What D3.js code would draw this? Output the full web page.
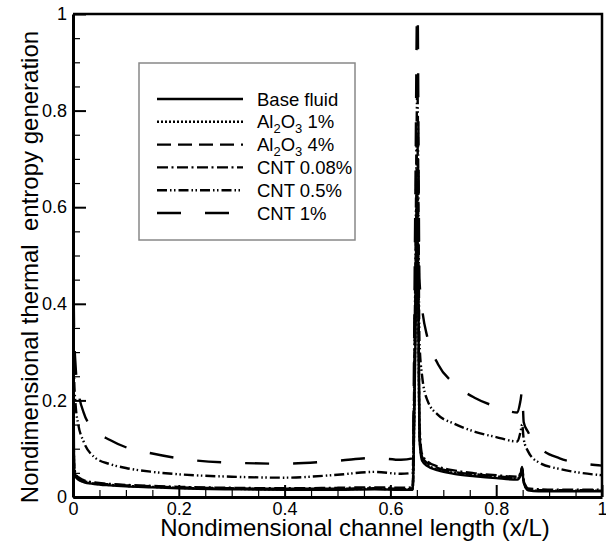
<!DOCTYPE html>
<html>
<head>
<meta charset="utf-8">
<script src="https://cdn.jsdelivr.net/npm/d3@7"></script>
<style>
  body { margin: 0; background: #fff; }
  svg { font-family: "Liberation Sans", Arial, sans-serif; }
</style>
</head>
<body>
<div class="canvas"></div>
<script>
// x/L positions shared by every series (dense near the inlet and the two jumps)
const xs = [0, 0.002, 0.005, 0.01, 0.02, 0.04, 0.07, 0.1, 0.15, 0.2, 0.3, 0.4, 0.5, 0.57, 0.62,
  0.642, 0.647, 0.651, 0.655, 0.66, 0.67, 0.69, 0.72, 0.76, 0.8, 0.84,
  0.846, 0.849, 0.852, 0.86, 0.88, 0.92, 0.96, 1]

const baseFluid = [0.45, 0.06, 0.042, 0.036, 0.031, 0.027, 0.024, 0.022, 0.02, 0.018, 0.016, 0.015, 0.015, 0.016, 0.015,
  0.015, 0.3, 0.6, 0.12, 0.075, 0.064, 0.055, 0.048, 0.043, 0.039, 0.036,
  0.045, 0.056, 0.03, 0.014, 0.012, 0.012, 0.012, 0.012]
const al2o3_1 = [0.46, 0.062, 0.044, 0.037, 0.032, 0.028, 0.025, 0.023, 0.021, 0.019, 0.017, 0.016, 0.016, 0.017, 0.016,
  0.016, 0.32, 0.63, 0.125, 0.078, 0.066, 0.057, 0.05, 0.045, 0.041, 0.038,
  0.047, 0.058, 0.031, 0.015, 0.013, 0.013, 0.013, 0.013]
const al2o3_4 = [0.48, 0.066, 0.046, 0.039, 0.033, 0.029, 0.026, 0.024, 0.022, 0.02, 0.018, 0.017, 0.017, 0.018, 0.017,
  0.018, 0.36, 0.68, 0.135, 0.083, 0.07, 0.06, 0.052, 0.047, 0.043, 0.04,
  0.048, 0.06, 0.033, 0.016, 0.014, 0.014, 0.014, 0.014]
const cnt008 = [0.5, 0.07, 0.048, 0.041, 0.035, 0.03, 0.027, 0.025, 0.023, 0.021, 0.019, 0.018, 0.019, 0.02, 0.019,
  0.02, 0.4, 0.75, 0.15, 0.088, 0.074, 0.063, 0.055, 0.049, 0.045, 0.042,
  0.05, 0.062, 0.035, 0.018, 0.016, 0.015, 0.015, 0.015]
const cnt05 = [0.55, 0.25, 0.19, 0.15, 0.115, 0.083, 0.068, 0.06, 0.052, 0.047, 0.042, 0.04, 0.046, 0.052, 0.048,
  0.05, 0.45, 0.85, 0.32, 0.25, 0.2, 0.17, 0.152, 0.135, 0.124, 0.115,
  0.135, 0.15, 0.12, 0.095, 0.072, 0.058, 0.05, 0.045]
const cnt1 = [0.7, 0.35, 0.27, 0.22, 0.175, 0.14, 0.118, 0.103, 0.09, 0.08, 0.071, 0.069, 0.075, 0.081, 0.077,
  0.08, 0.6, 1.05, 0.45, 0.39, 0.33, 0.275, 0.235, 0.205, 0.187, 0.175,
  0.2, 0.22, 0.155, 0.135, 0.105, 0.08, 0.07, 0.065]

const labels = ['Base fluid', 'Al{2}O{3} 1%', 'Al{2}O{3} 4%', 'CNT 0.08%', 'CNT 0.5%', 'CNT 1%']
const xTicks = [0, 0.2, 0.4, 0.6, 0.8, 1]
const yTicks = [0, 0.2, 0.4, 0.6, 0.8, 1]
const minorTicks = [0.05, 0.1, 0.15, 0.25, 0.3, 0.35, 0.45, 0.5, 0.55, 0.65, 0.7, 0.75, 0.85, 0.9, 0.95]

// line styles
const dashes = [null, '2,2', '14,7', '11,3.5,2,3.5', '10,3,1.5,2.5,1.5,3', '24,24']

const series = [baseFluid, al2o3_1, al2o3_4, cnt008, cnt05, cnt1].map((vals, i) => ({
  label: labels[i],
  dash: dashes[i],
  points: xs.map((x, j) => [x, vals[j]])
}))

const width = 606
const height = 542
const margin = { top: 14, right: 4, bottom: 45, left: 73 }

const svg = d3.select('.canvas')
  .append('svg')
  .attr('width', width)
  .attr('height', height)

const graphWidth = width - margin.left - margin.right
const graphHeight = height - margin.top - margin.bottom

const graph = svg.append('g')
  .attr('transform', `translate(${margin.left}, ${margin.top})`)

const x = d3.scaleLinear().domain([0, 1]).range([0, graphWidth])
const y = d3.scaleLinear().domain([0, 1]).range([graphHeight, 0])

graph.append('clipPath').attr('id', 'clip')
  .append('rect')
  .attr('width', graphWidth)
  .attr('height', graphHeight)

const line = d3.line()
  .x(d => x(d[0]))
  .y(d => y(d[1]))
  .curve(d3.curveMonotoneX)

// curves, drawn back to front
graph.append('g')
  .attr('clip-path', 'url(#clip)')
  .selectAll('path')
  .data(series.slice().reverse())
  .enter()
  .append('path')
    .attr('d', d => line(d.points))
    .attr('fill', 'none')
    .attr('stroke', '#000')
    .attr('stroke-width', 2.4)
    .attr('stroke-dasharray', d => d.dash)

// minor ticks
graph.append('g')
  .attr('transform', `translate(0, ${graphHeight})`)
  .call(d3.axisBottom(x).tickValues(minorTicks).tickSize(-7).tickFormat(''))
  .call(g => g.select('.domain').remove())
graph.append('g')
  .call(d3.axisLeft(y).tickValues(minorTicks).tickSize(-7).tickFormat(''))
  .call(g => g.select('.domain').remove())

// major axes
const xAxisGroup = graph.append('g')
  .attr('transform', `translate(0, ${graphHeight})`)
  .call(d3.axisBottom(x).tickValues(xTicks).tickSize(-12).tickSizeOuter(0).tickPadding(5).tickFormat(d => d))
const yAxisGroup = graph.append('g')
  .call(d3.axisLeft(y).tickValues(yTicks).tickSize(-13).tickSizeOuter(0).tickPadding(6).tickFormat(d => d))

graph.selectAll('.tick line').attr('stroke', '#000').attr('stroke-width', 1.2)
xAxisGroup.selectAll('.tick line').attr('stroke-width', 2)
yAxisGroup.selectAll('.tick line').attr('stroke-width', 2)
graph.selectAll('.domain').attr('stroke', '#000').attr('stroke-width', 3)
graph.selectAll('.tick text')
  .attr('font-size', 18)
  .attr('font-family', '"Liberation Sans", Arial, sans-serif')
  .attr('fill', '#000')

// top and right border
graph.append('path')
  .attr('d', `M0,0H${graphWidth}V${graphHeight}`)
  .attr('fill', 'none')
  .attr('stroke', '#000')
  .attr('stroke-width', 2.5)

// axis titles
svg.append('text')
  .attr('x', 355)
  .attr('y', 536)
  .attr('text-anchor', 'middle')
  .attr('font-size', 24)
  .text('Nondimensional channel length (x/L)')

svg.append('text')
  .attr('transform', `translate(38, 267) rotate(-90)`)
  .attr('text-anchor', 'middle')
  .attr('font-size', 24)
  .style('white-space', 'pre')
  .text('Nondimensional thermal  entropy generation')

// legend
const legend = svg.append('g')
legend.append('rect')
  .attr('x', 139)
  .attr('y', 63)
  .attr('width', 216)
  .attr('height', 177)
  .attr('fill', '#fff')
  .attr('stroke', '#888')
  .attr('stroke-width', 1.5)

const rows = legend.selectAll('g.row')
  .data(series)
  .enter()
  .append('g')
    .attr('class', 'row')
    .attr('transform', (d, i) => `translate(0, ${99 + i * 22.8})`)

rows.append('line')
  .attr('x1', 157)
  .attr('x2', 243)
  .attr('stroke', '#000')
  .attr('stroke-width', 2.4)
  .attr('stroke-dasharray', d => d.dash)

rows.append('text')
  .attr('x', 257)
  .attr('y', 6.5)
  .attr('font-size', 18.5)
  .each(function(d) {
    const t = d3.select(this)
    let shifted = false
    d.label.split(/(\{\d\})/).filter(s => s.length).forEach(part => {
      if (part[0] === '{') {
        t.append('tspan').attr('font-size', 13).attr('dy', 5).text(part.slice(1, -1))
        shifted = true
      } else {
        t.append('tspan').attr('dy', shifted ? -5 : 0).text(part)
        shifted = false
      }
    })
  })
</script>
</body>
</html>
